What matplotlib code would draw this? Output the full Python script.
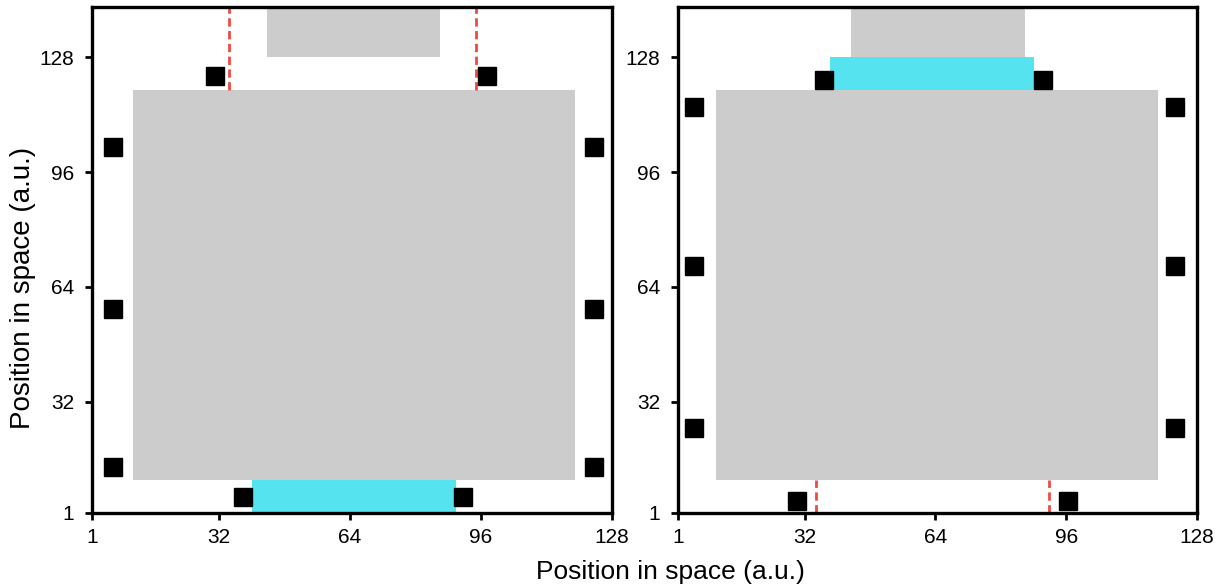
import matplotlib
matplotlib.use("Agg")
import matplotlib.pyplot as plt

plt.rcParams["font.family"] = ["Liberation Sans", "DejaVu Sans"]

# Ticks shared by both panels
ticks = [1, 32, 64, 96, 128]
x_range = (1, 128)
y_range = (1, 142)

# Panel A (left): grey regions, cyan region, red boundaries, black markers
a_grey = [(11, 119, 10.2, 119), (43.7, 86, 128, 142)]
a_cyan = [(40, 90, 1, 10.2)]
a_red_x = [34.5, 94.8]
a_red_y = (119, 142)
a_sq_x = [31, 97.5, 6.1, 6.1, 6.1, 123.6, 123.6, 123.6, 37.9, 91.6]
a_sq_y = [122.7, 122.7, 102.9, 57.9, 13.8, 102.9, 57.9, 13.8, 5.5, 5.5]

# Panel B (right)
b_grey = [(10.3, 118.4, 10.2, 119), (43.3, 86, 128, 142)]
b_cyan = [(38.2, 88.1, 119, 128)]
b_red_x = [34.8, 91.8]
b_red_y = (1, 10.2)
b_sq_x = [36.7, 90.3, 4.9, 4.9, 4.9, 122.6, 122.6, 122.6, 30.1, 96.4]
b_sq_y = [121.6, 121.6, 114, 69.7, 24.7, 114, 69.7, 24.7, 4.3, 4.3]


def draw_panel(ax, grey, cyan, red_x, red_y, sq_x, sq_y):
    for x0, x1, y0, y1 in grey:
        ax.fill_between([x0, x1], y0, y1, color="#cccccc", lw=0)
    for x0, x1, y0, y1 in cyan:
        ax.fill_between([x0, x1], y0, y1, color="#55e3f0", lw=0)
    for x in red_x:
        ax.plot([x, x], red_y, color="#ec4b43", lw=2, ls=(0, (3, 1.6)))
    ax.plot(sq_x, sq_y, ls="none", marker="s", ms=13, color="black",
            mec="black")

    ax.set_xlim(*x_range)
    ax.set_ylim(*y_range)
    ax.set_xticks(ticks)
    ax.set_yticks(ticks)
    ax.tick_params(direction="out", length=5, width=2, labelsize=15)
    ax.tick_params(axis="x", pad=6)
    ax.tick_params(axis="y", pad=8)
    for s in ax.spines.values():
        s.set_linewidth(2.4)


fig = plt.figure(figsize=(12.3, 5.88), dpi=100)
ax1 = fig.add_axes([0.0748, 0.1276, 0.4228, 0.8605])
ax2 = fig.add_axes([0.5512, 0.1276, 0.422, 0.8605])

draw_panel(ax1, a_grey, a_cyan, a_red_x, a_red_y, a_sq_x, a_sq_y)
draw_panel(ax2, b_grey, b_cyan, b_red_x, b_red_y, b_sq_x, b_sq_y)

fig.text(0.019, 0.51, "Position in space (a.u.)", fontsize=20,
         rotation=90, ha="center", va="center")
fig.text(0.545, 0.027, "Position in space (a.u.)", fontsize=19,
         ha="center", va="center")

fig.savefig("out.png", dpi=100)
